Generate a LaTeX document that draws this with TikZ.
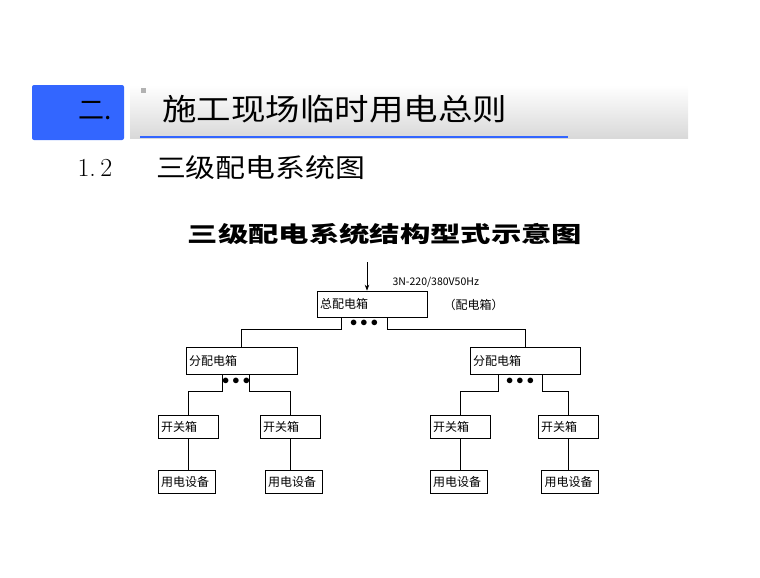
\documentclass[tikz,border=0pt]{standalone}
\usepackage{fontspec}
\newfontfamily\cjk{Noto Sans CJK SC}
\usetikzlibrary{arrows.meta}
\definecolor{titleblue}{RGB}{51,102,255}
\tikzset{
  box/.style={draw, line width=0.7pt, minimum height=24pt, inner sep=3pt, align=left, font=\cjk\fontsize{12}{13}\selectfont},
  wire/.style={line width=0.7pt},
  dots/.style={font=\fontsize{14}{14}\selectfont\bfseries}
}
\begin{document}
\begin{tikzpicture}[x=1pt, y=-1pt]
    \useasboundingbox (0,0) rectangle (760,578);
    %HEADER
    \shade[top color=white, bottom color=gray!30] (130,85) rectangle (688,138);
    \fill[titleblue, rounded corners=2pt] (32,85) rectangle (124,140);
    \draw[titleblue, line width=1.5pt] (140,137) -- (568,137);
    \fill[gray!60] (141,88) rectangle (146,93);
    \node (num) at (95,111) {\cjk\fontsize{26}{28}\selectfont 二.};
    \node[anchor=west, xscale=1.15] (head) at (158,109) {\cjk\fontsize{30}{32}\selectfont 施工现场临时用电总则};
    \node[anchor=west] (sec) at (74,168) {\fontsize{26}{28}\selectfont 1.\,2};
    \node[anchor=west, xscale=1.15] (sect) at (152,168) {\cjk\fontsize{26}{28}\selectfont 三级配电系统图};
    \node[xscale=1.38] (dtitle) at (385,234) {\cjk\bfseries\fontsize{22}{24}\selectfont 三级配电系统结构型式示意图};
    %BOXES
    \node[box, minimum width=110pt, text width=104pt, minimum height=26pt] (zong) at (372,304) {总配电箱};
    \node[anchor=west, font=\cjk\fontsize{10.5}{12}\selectfont] (pow) at (389,282) {3N-220/380V50Hz};
    \node[anchor=west, font=\cjk\fontsize{12}{13}\selectfont] (note) at (440,305) {（配电箱）};
    \node[box, minimum width=111pt, text width=105pt, minimum height=27pt] (fenL) at (241.5,360.5) {分配电箱};
    \node[box, minimum width=110pt, text width=104pt, minimum height=27pt] (fenR) at (525,360.5) {分配电箱};
    \node[box, minimum width=60pt, text width=54pt, minimum height=23pt] (kg1) at (188,426.5) {开关箱};
    \node[box, minimum width=60pt, text width=54pt, minimum height=23pt] (kg2) at (290,426.5) {开关箱};
    \node[box, minimum width=60pt, text width=54pt, minimum height=23pt] (kg3) at (460,426.5) {开关箱};
    \node[box, minimum width=60pt, text width=54pt, minimum height=23pt] (kg4) at (568,426.5) {开关箱};
    \node[box, minimum width=57pt, text width=51pt, minimum height=23pt] (yd1) at (186.5,481.5) {用电设备};
    \node[box, minimum width=57pt, text width=51pt, minimum height=23pt] (yd2) at (293.5,481.5) {用电设备};
    \node[box, minimum width=57pt, text width=51pt, minimum height=23pt] (yd3) at (458.5,481.5) {用电设备};
    \node[box, minimum width=57pt, text width=51pt, minimum height=23pt] (yd4) at (570,481.5) {用电设备};
    %DOTS
    \node[dots] (d0) at (364,323) {$\bullet\bullet\bullet$};
    \node[dots] (d1) at (236,381) {$\bullet\bullet\bullet$};
    \node[dots] (d2) at (520,381) {$\bullet\bullet\bullet$};
    %WIRES
    \coordinate (feed) at (367,262);
    \draw[wire, -{Stealth[length=6pt]}] (feed) -- (zong.north -| feed);
    \draw[wire] ([xshift=-31pt]zong.south) -- ++(0,12) -| (fenL.north);
    \draw[wire] ([xshift=15pt]zong.south) -- ++(0,12) -| (fenR.north);
    \draw[wire] ([xshift=-19.5pt]fenL.south) -- ++(0,17) -| (kg1.north);
    \draw[wire] ([xshift=7.5pt]fenL.south) -- ++(0,17) -| (kg2.north);
    \draw[wire] ([xshift=-27pt]fenR.south) -- ++(0,17) -| (kg3.north);
    \draw[wire] ([xshift=17pt]fenR.south) -- ++(0,17) -| (kg4.north);
    \foreach \i in {1,2,3,4}
      \draw[wire] (kg\i.south) -- (yd\i.north -| kg\i.south);
\end{tikzpicture}
\end{document}
